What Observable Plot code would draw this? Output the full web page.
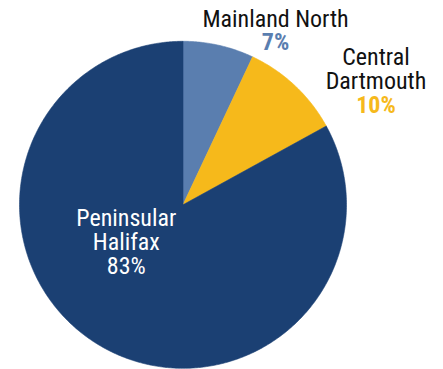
<!DOCTYPE html>
<html>
<head>
<meta charset="utf-8">
<script src="https://cdn.jsdelivr.net/npm/d3@7"></script>
<script src="https://cdn.jsdelivr.net/npm/@observablehq/plot@0.6"></script>
<style>
  html, body { margin: 0; padding: 0; background: #fff; }
  #chart svg { display: block; }
</style>
</head>
<body>
<div id="chart"></div>
<script>
// Share of total by region (percent), clockwise from 12 o'clock
const regions = ["Mainland North", "Central Dartmouth", "Peninsular Halifax"];
const shares = [7, 10, 83];
const sliceColors = ["#5a7eaf", "#f6b91b", "#1b4073"];
const nameLines = ["Mainland North", "Central\nDartmouth", "Peninsular\nHalifax"];

const FONT = "'Liberation Sans Narrow', 'Roboto Condensed', 'Arial Narrow', sans-serif";

// Slice outlines on the unit circle, angles from d3.pie (0 = top, clockwise)
const arcs = d3.pie().sort(null).value(d => d)(shares);
const slicePoints = arcs.flatMap((a, i) => {
  const steps = Math.max(4, Math.ceil((a.endAngle - a.startAngle) / 0.01));
  const pts = [{region: regions[i], x: 0, y: 0}];
  for (let k = 0; k <= steps; k++) {
    const t = a.startAngle + (a.endAngle - a.startAngle) * k / steps;
    pts.push({region: regions[i], x: Math.sin(t), y: Math.cos(t)});
  }
  pts.push({region: regions[i], x: 0, y: 0});
  return pts;
});

// Label anchors in chart units (radius = 1); y is the baseline of the last line
const outside = [
  {name: nameLines[0], pct: shares[0] + "%", color: sliceColors[0], x: 0.566, yName: 1.090, yPct: 0.944},
  {name: nameLines[1], pct: shares[1] + "%", color: sliceColors[1], x: 1.180, yName: 0.7095, yPct: 0.560}
];
const inside = [
  {text: nameLines[2] + "\n" + shares[2] + "%", x: -0.347, y: -0.422}
];

const chart = Plot.plot({
  width: 443,
  height: 369,
  marginLeft: 19,
  marginRight: 97,
  marginTop: 40.8,
  marginBottom: 1.2,
  x: {domain: [-1, 1], axis: null},
  y: {domain: [-1, 1], axis: null},
  color: {domain: regions, range: sliceColors},
  style: {fontFamily: FONT, background: "#fff"},
  marks: [
    Plot.line(slicePoints, {
      x: "x", y: "y", z: "region",
      fill: "region", stroke: "region", strokeWidth: 0.6,
      curve: "linear"
    }),
    Plot.text(outside, {
      x: "x", y: "yName", text: "name",
      fill: "#111", fontSize: 24, lineHeight: 0.99,
      lineAnchor: "bottom", textAnchor: "middle"
    }),
    Plot.text(outside, {
      x: "x", y: "yPct", text: "pct",
      fill: "color", fontSize: 24, fontWeight: "bold",
      lineAnchor: "bottom", textAnchor: "middle"
    }),
    Plot.text(inside, {
      x: "x", y: "y", text: "text",
      fill: "#fff", fontSize: 24, lineHeight: 0.99,
      lineAnchor: "bottom", textAnchor: "middle"
    })
  ]
});

document.getElementById("chart").appendChild(chart);
</script>
</body>
</html>
